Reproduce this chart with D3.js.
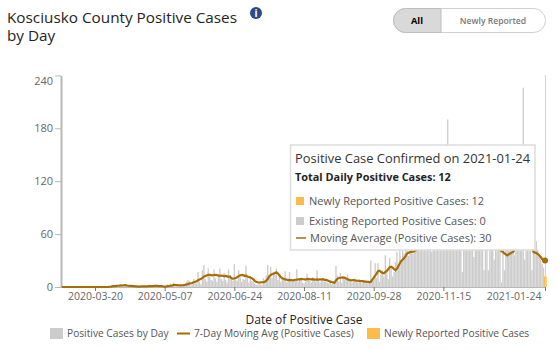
<!DOCTYPE html>
<html>
<head>
<meta charset="utf-8">
<script src="https://d3js.org/d3.v7.min.js"></script>
<style>
  html, body { margin: 0; padding: 0; background: #fff; }
  svg text { font-family: "Open Sans", "Noto Sans", sans-serif; }
</style>
</head>
<body>
<svg id="chart" width="559" height="351"></svg>
<script>
var startDate = "2020-02-26";
var xTickDates = ["2020-03-20", "2020-05-07", "2020-06-24", "2020-08-11", "2020-09-28", "2020-11-15", "2021-01-24"];
var yTickValues = [0, 60, 120, 180, 240];

// one row per week. values under the tooltip are guesses
var existingCases = [
  0, 0, 0, 0, 0, 0, 0,
  0, 0, 0, 0, 0, 0, 0,
  0, 0, 0, 0, 0, 0, 0,
  0, 0, 0, 0, 0, 0, 0,
  0, 0, 0, 0, 1, 0, 1,
  2, 1, 2, 1, 0, 3, 1,
  2, 3, 1, 0, 1, 1, 0,
  1, 0, 0, 1, 0, 1, 1,
  0, 1, 0, 1, 2, 0, 1,
  1, 2, 1, 0, 1, 1, 0,
  0, 0, 1, 3, 2, 4, 1,
  5, 2, 1, 3, 1, 2, 1,
  3, 2, 6, 8, 7, 2, 3,
  9, 7, 4, 17, 6, 3, 19,
  25, 9, 6, 21, 12, 8, 7,
  20, 10, 6, 14, 21, 9, 7,
  16, 8, 5, 20, 11, 9, 7,
  26, 8, 7, 19, 11, 6, 9,
  8, 24, 10, 5, 12, 7, 6,
  4, 3, 2, 5, 3, 2, 10,
  5, 13, 25, 12, 23, 10, 16,
  14, 21, 8, 12, 6, 10, 9,
  18, 5, 7, 17, 9, 6, 8,
  7, 20, 6, 8, 10, 5, 4,
  6, 15, 9, 7, 5, 11, 8,
  6, 19, 7, 5, 10, 8, 6,
  9, 5, 4, 8, 3, 6, 5,
  24, 13, 6, 16, 5, 10, 9,
  8, 14, 7, 9, 5, 6, 10,
  7, 5, 9, 6, 4, 8, 5,
  6, 4, 5, 30, 8, 11, 27,
  10, 27, 6, 14, 19, 12, 36,
  18, 9, 33, 22, 12, 17, 28,
  40, 25, 44, 30, 46, 38, 52,
  48, 35, 55, 60, 38, 46, 58,
  62, 48, 70, 55, 44, 66, 52,
  60, 72, 58, 40, 65, 80, 58,
  75, 62, 90, 68, 55, 84, 70,
  190, 78, 65, 88, 72, 60, 82,
  95, 70, 58, 17, 66, 85, 74,
  60, 92, 78, 64, 34, 80, 68,
  72, 88, 56, 62, 19, 75, 50,
  19, 66, 84, 58, 31, 70, 62,
  54, 78, 5, 60, 19, 52, 74,
  66, 48, 58, 80, 36, 62, 56,
  70, 50, 64, 226, 31, 58, 46,
  60, 48, 19, 52, 44, 52, 42,
  36, 31, 26, 22, 0
];
var newlyReported = [12];

var movingAvg = [
  0, 0, 0, 0, 0, 0, 0,
  0, 0, 0, 0, 0, 0, 0,
  0, 0, 0, 0, 0, 0, 0,
  0, 0, 0, 0, 0, 0, 0,
  0, 0, 0, 0, 0.1, 0.3, 0.4,
  0.7, 1, 1.1, 1.3, 1.4, 1.6, 1.9,
  1.7, 2, 2.1, 1.6, 1.4, 1.3, 1.3,
  1, 0.9, 0.6, 0.7, 0.5, 0.5, 0.7,
  0.6, 0.7, 0.6, 0.6, 0.9, 1, 1.1,
  1.1, 1.4, 1.3, 1.2, 1.1, 1, 0.9,
  0.6, 0.4, 0.6, 0.9, 1.1, 1.4, 1.6,
  2.3, 2.4, 2.3, 2.1, 2, 1.9, 2,
  2.1, 2.4, 2.9, 3.3, 3.9, 4.2, 4.6,
  5.4, 5.9, 6.6, 7.6, 8.4, 9.3, 10.4,
  11.7, 12.4, 13.1, 13.8, 13.9, 13.5, 13.2,
  13.6, 13.8, 13.4, 13.1, 12.6, 13, 12.8,
  12.3, 12.6, 12.1, 11.6, 11.9, 9.8, 9.4,
  9.6, 10.1, 11.3, 12.4, 13.3, 13.6, 13.5,
  12.7, 12.9, 11.9, 11.3, 10.8, 10.1, 8.9,
  7, 5.9, 5.4, 5.1, 5.2, 5.4, 5.6,
  6, 7.2, 9, 12.1, 13.6, 14.4, 15.2,
  15.8, 16.6, 15.4, 13.2, 11.4, 9.9, 9.4,
  8.7, 8.3, 7.9, 8, 7.9, 7.6, 7.8,
  8.2, 8.3, 8.6, 8.7, 9.1, 8.9, 8.8,
  8.4, 8.9, 9.1, 8.8, 8.6, 8.8, 8.4,
  8.3, 8.7, 8.4, 8.7, 8.5, 8.8, 8.1,
  8, 7.6, 6.8, 6.1, 5.6, 5.2, 4.8,
  7.4, 9.3, 10.2, 10.5, 10.7, 10.9, 10.4,
  9.6, 8.9, 8.1, 7.8, 7.6, 7.9, 7.5,
  7.3, 7.1, 6.9, 6.8, 6.6, 6.4, 6.2,
  6, 5.9, 5.6, 5.8, 8.4, 10.3, 13,
  15.2, 18, 18.5, 17, 16, 15.6, 17,
  18.2, 20, 22.5, 23, 22, 20.4, 19,
  20.8, 23.8, 27, 29.5, 31.3, 33, 35,
  38, 38.9, 39.6, 39.9, 40, 40.8, 41.5,
  43, 45, 47, 49, 50, 52, 53,
  55, 56, 58, 59, 60, 62, 63,
  64, 66, 67, 69, 70, 70, 72,
  91, 88, 86, 87, 86, 85, 84,
  70, 70, 68, 67, 66, 67, 68,
  68, 67, 66, 66, 64, 63, 62,
  60, 59, 58, 56, 55, 53, 52,
  50, 52, 50, 48, 49, 47, 46,
  45, 43, 40.5, 40, 38, 37, 35.8,
  37, 38, 39, 39.8, 42, 44, 46,
  48, 49, 50, 78, 76, 74, 72,
  68, 66, 64, 40, 39, 38.5, 37.5,
  36, 34, 31.5, 30.5, 30
];

var parseDate = d3.timeParse("%Y-%m-%d");
var days = existingCases.map(function (v, i) {
  return d3.timeDay.offset(parseDate(startDate), i);
});

var svg = d3.select("#chart");

var x = d3.scaleTime()
  .domain([days[0], days[days.length - 1]])
  .range([61.6, 545]);
var y = d3.scaleLinear().domain([0, 240]).range([287, 75.4]);

// bars
var barWidth = 1.35;
svg.append("g").selectAll("rect")
  .data(existingCases)
  .enter().append("rect")
  .attr("x", function (d, i) { return x(days[i]) - barWidth / 2; })
  .attr("width", barWidth)
  .attr("y", function (d) { return y(d); })
  .attr("height", function (d) { return y(0) - y(d); })
  .attr("fill", "#cccccc");

var lastDay = days[days.length - 1];
svg.append("g").selectAll("rect")
  .data(newlyReported)
  .enter().append("rect")
  .attr("x", x(lastDay) - 1)
  .attr("width", 2.7)
  .attr("y", function (d) { return y(d); })
  .attr("height", function (d) { return y(0) - y(d); })
  .attr("fill", "#fdbb4a");

// axes
var yAxis = svg.append("g")
  .attr("transform", "translate(61,0)")
  .call(d3.axisLeft(y).tickValues(yTickValues).tickSize(6).tickSizeOuter(0));
yAxis.select(".domain").attr("stroke", "#b8b8b8").attr("stroke-width", 2);
yAxis.selectAll(".tick line").attr("stroke", "#b8b8b8");
yAxis.selectAll(".tick text")
  .attr("fill", "#666666").style("font-size", "11px").attr("x", -8)
  .attr("dy", function (d) { return d == 240 ? "0.8em" : "0.32em"; });

var xAxis = svg.append("g")
  .attr("transform", "translate(0,287)")
  .call(d3.axisBottom(x)
    .tickValues(xTickDates.map(parseDate))
    .tickFormat(d3.timeFormat("%Y-%m-%d"))
    .tickSize(4).tickSizeOuter(0));
xAxis.select(".domain").attr("stroke", "#b8b8b8");
xAxis.selectAll(".tick line").attr("stroke", "#777777");
xAxis.selectAll(".tick text")
  .attr("fill", "#666666").style("font-size", "10.5px").attr("y", 6);
// last label sits left of its tick so it stays on the page
xAxis.selectAll(".tick:last-of-type text").attr("text-anchor", "end").attr("x", -4);

// hover line + moving average
svg.append("line")
  .attr("x1", x(lastDay) + 0.5).attr("x2", x(lastDay) + 0.5)
  .attr("y1", 75).attr("y2", 287)
  .attr("stroke", "#d4d4d4").attr("stroke-width", 1);

var line = d3.line()
  .x(function (d, i) { return x(days[i]); })
  .y(function (d) { return y(d); });
svg.append("path")
  .datum(movingAvg)
  .attr("d", line)
  .attr("fill", "none")
  .attr("stroke", "#a86c05")
  .attr("stroke-width", 2.2);
svg.append("circle")
  .attr("cx", x(lastDay)).attr("cy", y(movingAvg[movingAvg.length - 1]))
  .attr("r", 3).attr("fill", "#a86c05");

// title
var title = svg.append("g").attr("fill", "#252423").style("font-size", "15.3px");
title.append("text").attr("x", 7).attr("y", 23).text("Kosciusko County Positive Cases");
title.append("text").attr("x", 7).attr("y", 41).text("by Day");

// info icon
svg.append("circle").attr("cx", 256).attr("cy", 13).attr("r", 6).attr("fill", "#2c4a86");
svg.append("text").attr("x", 256).attr("y", 17).attr("text-anchor", "middle")
  .attr("fill", "#fff").style("font-size", "10px").style("font-weight", "700").text("i");

// toggle
svg.append("rect").attr("x", 393.5).attr("y", 8.5).attr("width", 152).attr("height", 24).attr("rx", 12)
  .attr("fill", "#fff").attr("stroke", "#d0d0d0");
svg.append("path").attr("d", "M441,8.5H405.5a12,12 0 0 0 0,24H441Z").attr("fill", "#d9d9d9").attr("stroke", "#bdbdbd");
svg.append("text").attr("x", 417).attr("y", 24).attr("text-anchor", "middle")
  .attr("fill", "#000").style("font-size", "9.2px").style("font-weight", "700").text("All");
svg.append("text").attr("x", 493).attr("y", 24).attr("text-anchor", "middle")
  .attr("fill", "#777").style("font-size", "8.6px").style("font-weight", "600").text("Newly Reported");

// tooltip
var tip = svg.append("g");
tip.append("rect").attr("x", 290.5).attr("y", 145).attr("width", 244.5).attr("height", 105)
  .attr("fill", "#fff").attr("stroke", "#dddddd").attr("stroke-width", 1.5);
tip.append("text").attr("x", 295).attr("y", 163).attr("fill", "#333").style("font-size", "12.9px")
  .text("Positive Case Confirmed on 2021-01-24");
tip.append("text").attr("x", 295).attr("y", 181).attr("fill", "#252423").style("font-size", "10.9px").style("font-weight", "700")
  .text("Total Daily Positive Cases: 12");
tip.append("rect").attr("x", 296).attr("y", 197).attr("width", 8).attr("height", 8).attr("fill", "#fdbb4a");
tip.append("text").attr("x", 309).attr("y", 205).attr("fill", "#555").style("font-size", "11px")
  .text("Newly Reported Positive Cases: 12");
tip.append("rect").attr("x", 296).attr("y", 217).attr("width", 8).attr("height", 8).attr("fill", "#cccccc");
tip.append("text").attr("x", 309).attr("y", 225).attr("fill", "#555").style("font-size", "11px")
  .text("Existing Reported Positive Cases: 0");
tip.append("line").attr("x1", 296).attr("x2", 306).attr("y1", 238).attr("y2", 238)
  .attr("stroke", "#a86c05").attr("stroke-width", 1.5);
tip.append("text").attr("x", 310).attr("y", 242).attr("fill", "#555").style("font-size", "11px")
  .text("Moving Average (Positive Cases): 30");

// axis title + legend
svg.append("text").attr("x", 304).attr("y", 323.5).attr("text-anchor", "middle")
  .attr("fill", "#222").style("font-size", "12px").text("Date of Positive Case");
var legend = svg.append("g").attr("fill", "#555").style("font-size", "10.2px");
legend.append("rect").attr("x", 50).attr("y", 328).attr("width", 13).attr("height", 11).attr("fill", "#cccccc");
legend.append("text").attr("x", 67).attr("y", 337).text("Positive Cases by Day");
legend.append("line").attr("x1", 177).attr("x2", 190).attr("y1", 333.5).attr("y2", 333.5)
  .attr("stroke", "#a86c05").attr("stroke-width", 2);
legend.append("text").attr("x", 194).attr("y", 337).text("7-Day Moving Avg (Positive Cases)");
legend.append("rect").attr("x", 367).attr("y", 328).attr("width", 13).attr("height", 11).attr("fill", "#fdbb4a");
legend.append("text").attr("x", 384).attr("y", 337).text("Newly Reported Positive Cases");
</script>
</body>
</html>
